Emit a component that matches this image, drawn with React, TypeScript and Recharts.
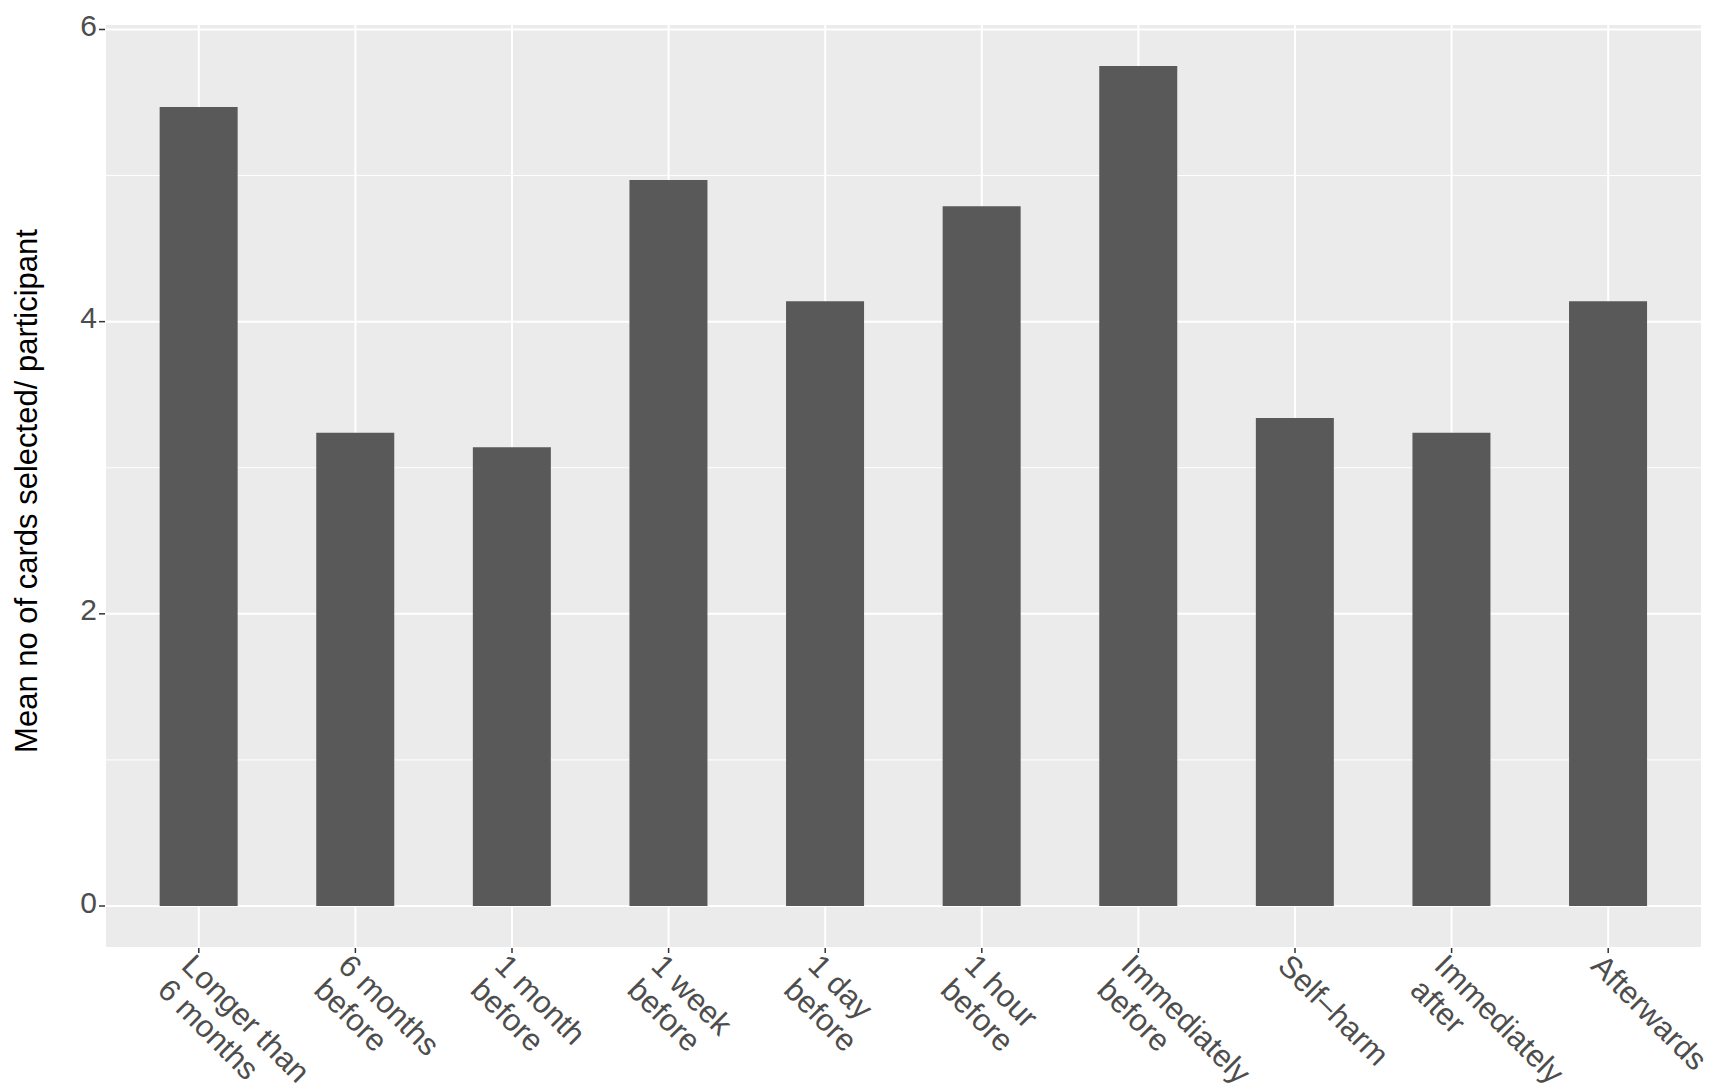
import { BarChart, Bar, XAxis, YAxis, CartesianGrid } from 'recharts';

const categories = [
  'Longer than\n6 months',
  '6 months\nbefore',
  '1 month\nbefore',
  '1 week\nbefore',
  '1 day\nbefore',
  '1 hour\nbefore',
  'Immediately\nbefore',
  'Self–harm',
  'Immediately\nafter',
  'Afterwards',
];
const meanCards = [5.47, 3.24, 3.14, 4.97, 4.14, 4.79, 5.75, 3.34, 3.24, 4.14];
const majorTicks = [0, 2, 4, 6];
const minorTicks = [1, 3, 5];

const data = categories.map((name, i) => ({ name, mean: meanCards[i] }));

// ggplot-style 5% expansion of the continuous axis
const yMax = Math.max(...meanCards);
const yPad = yMax * 0.05;
const yDomain = [-yPad, yMax + yPad];

const FONT = '"Liberation Sans", Arial, Helvetica, sans-serif';

interface tickProps {
  x?: number;
  y?: number;
  payload?: { value: string | number };
}

function XTick({ x = 0, y = 0, payload }: tickProps) {
  const lines = String(payload?.value ?? '').split('\n');
  return (
    <g transform={`translate(${x},${y})`}>
      <text transform="rotate(45)" fontSize={31} fill="#4D4D4D" fontFamily={FONT}>
        {lines.map((line, i) => (
          <tspan key={i} x={-3} dy={i === 0 ? '0.76em' : '1.1em'}>
            {line}
          </tspan>
        ))}
      </text>
    </g>
  );
}

function YTick({ x = 0, y = 0, payload }: tickProps) {
  return (
    <text x={x} y={y - 4} dy="0.355em" textAnchor="end" fontSize={30} fill="#4D4D4D" fontFamily={FONT}>
      {payload?.value}
    </text>
  );
}

function YTitle(props: any) {
  const vb = props.viewBox || { x: 0, y: 0, height: 0 };
  const cx = vb.x + 37;
  const cy = vb.y + vb.height / 2 + 5;
  return (
    <text
      x={cx}
      y={cy}
      transform={`rotate(-90, ${cx}, ${cy})`}
      textAnchor="middle"
      fontSize={31}
      fill="#000000"
      fontFamily={FONT}
    >
      Mean no of cards selected/ participant
    </text>
  );
}

export default function App() {
  return (
    <div style={{ position: 'absolute', left: 0, top: 0, background: '#FFFFFF' }}>
      <BarChart
        width={1720}
        height={1090}
        data={data}
        margin={{ top: 24, right: 18, bottom: 0, left: 0 }}
        barCategoryGap="25%"
      >
        <CartesianGrid
          yAxisId="minor"
          vertical={false}
          fill="#EBEBEB"
          fillOpacity={1}
          stroke="#FFFFFF"
          strokeWidth={1}
        />
        <CartesianGrid yAxisId="major" stroke="#FFFFFF" strokeWidth={2} />
        <XAxis
          dataKey="name"
          interval={0}
          height={142}
          tickSize={5}
          tickMargin={0}
          padding={{ left: 15.5, right: 15.5 }}
          axisLine={false}
          tickLine={{ stroke: '#333333', strokeWidth: 1.5 }}
          tick={<XTick />}
        />
        <YAxis
          yAxisId="minor"
          hide
          type="number"
          domain={yDomain}
          ticks={minorTicks}
          allowDataOverflow
        />
        <YAxis
          yAxisId="major"
          type="number"
          width={105}
          domain={yDomain}
          ticks={majorTicks}
          allowDataOverflow
          axisLine={false}
          tickSize={6}
          tickMargin={2}
          tickLine={{ stroke: '#333333', strokeWidth: 1.5 }}
          tick={<YTick />}
          label={<YTitle />}
        />
        <Bar yAxisId="major" dataKey="mean" fill="#595959" isAnimationActive={false} />
      </BarChart>
    </div>
  );
}
